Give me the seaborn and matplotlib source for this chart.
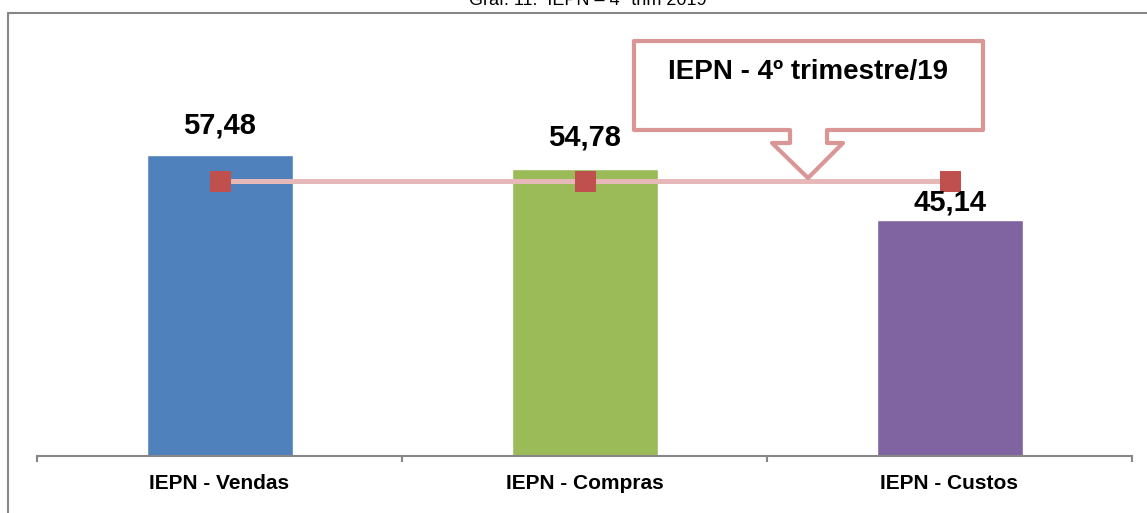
import numpy as np
import pandas as pd
import matplotlib
matplotlib.use("Agg")
import matplotlib.pyplot as plt
from matplotlib.lines import Line2D
from matplotlib.patches import Polygon
from matplotlib.ticker import FixedLocator
import seaborn as sns

# --- data -------------------------------------------------------------
categories = ["IEPN - Vendas", "IEPN - Compras", "IEPN - Custos"]
component_values = [57.48, 54.78, 45.14]
iepn_values = [52.47, 52.47, 52.47]
bar_colors = ["#4F81BD", "#9BBB59", "#8064A2"]
title_text = "Graf. 11:  IEPN – 4º trim 2019"
callout_text = "IEPN - 4º trimestre/19"

sns.set_theme(style="white")
plt.rcParams["font.family"] = ["Liberation Sans Narrow", "Liberation Sans", "DejaVu Sans"]

W, H = 1147, 513
fig = plt.figure(figsize=(W / 100, H / 100), dpi=100)
fig.patch.set_facecolor("white")


def fx(px):
    return px / W


def fy(py):
    return 1 - py / H


ax = fig.add_axes([fx(37), fy(456), fx(1132) - fx(37), fy(37) - fy(456)])
ax.set_facecolor("none")

df = pd.DataFrame({"cat": categories, "val": component_values})
sns.barplot(data=df, x="cat", y="val", hue="cat", palette=bar_colors,
            width=0.4, legend=False, ax=ax, saturation=1, zorder=2)

# IEPN line with square markers
pos = np.arange(len(categories))
sns.lineplot(x=pos, y=iepn_values, ax=ax, color="#E6B9B8", lw=3.6,
             marker="s", markersize=14, markerfacecolor="#C0504D",
             markeredgecolor="#C0504D", zorder=4, sort=False)

ax.set_xlim(-0.5, len(categories) - 0.5)
ax.set_ylim(0, 80)
ax.set_xlabel("")
ax.set_ylabel("")
ax.set_yticks([])
for s in ["left", "right", "top"]:
    ax.spines[s].set_visible(False)
ax.spines["bottom"].set_color("#868686")
ax.spines["bottom"].set_linewidth(1.5)

ax.set_xticks(pos)
ax.set_xticklabels(categories, fontsize=15, fontweight="bold", color="black")
ax.tick_params(axis="x", which="major", length=0, pad=13)
ax.xaxis.set_minor_locator(FixedLocator(np.arange(-0.5, len(categories), 1.0)))
ax.tick_params(axis="x", which="minor", length=4.5, width=1.5,
               color="#868686", direction="out", bottom=True)

# value labels above the bars
label_offsets_px = [29, 32, 17]
for i, (v, off) in enumerate(zip(component_values, label_offsets_px)):
    ax.annotate(f"{v:.2f}".replace(".", ","), xy=(i, v), xytext=(0, off),
                textcoords="offset pixels", ha="center", va="center",
                fontsize=21, fontweight="bold", color="black", zorder=6)

# callout box pointing at the IEPN line
pts_px = [(634, 41), (983, 41), (983, 130), (827, 130), (827, 143),
          (843, 143), (808, 178), (772, 143), (790, 143), (790, 130),
          (634, 130)]
callout = Polygon([(fx(x), fy(y)) for x, y in pts_px], closed=True,
                  transform=fig.transFigure, facecolor="white",
                  edgecolor="#D99694", lw=3, joinstyle="round", zorder=5)
fig.patches.append(callout)
fig.text(fx(808), fy(72), callout_text, ha="center", va="center",
         fontsize=20, fontweight="bold", color="black", zorder=6)

# outer frame
fig.lines.append(Line2D([fx(8), fx(8)], [fy(13), -0.05], transform=fig.transFigure,
                        color="#868686", lw=1.5))
fig.lines.append(Line2D([fx(8), 1.05], [fy(13), fy(13)], transform=fig.transFigure,
                        color="#868686", lw=1.5))

# chart title sitting above the frame
fig.text(fx(588), fy(5), title_text, ha="center", va="baseline",
         fontsize=13, color="black", family=["Liberation Sans", "DejaVu Sans"])

fig.savefig("out.png", dpi=100)
